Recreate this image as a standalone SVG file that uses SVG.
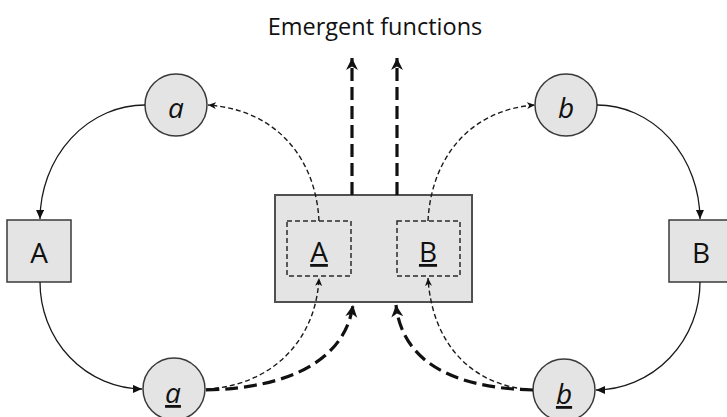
<svg xmlns="http://www.w3.org/2000/svg" width="727" height="417" viewBox="0 0 727 417">
  <style>
    .node { fill: #e4e4e4; stroke: #3a3a3a; stroke-width: 1.5; }
    .hub { fill: #e4e4e4; stroke: #505050; stroke-width: 2; }
    .inner { fill: none; stroke: #2a2a2a; stroke-width: 1.5; stroke-dasharray: 5 3; }
    .lbl { font-family: "Open Sans", "Liberation Sans", sans-serif; font-size: 28px; fill: #111; text-anchor: middle; }
    .it { font-style: italic; }
    .ul { text-decoration: underline; }
    .title { font-family: "Open Sans", "Liberation Sans", sans-serif; font-size: 23.5px; fill: #111; text-anchor: middle; }
    .solid { fill: none; stroke: #1a1a1a; stroke-width: 1.3; marker-end: url(#headSolid); }
    .thin { fill: none; stroke: #1a1a1a; stroke-width: 1.4; stroke-dasharray: 5 3; marker-end: url(#headThin); }
    .thick { fill: none; stroke: #111; stroke-width: 3.2; stroke-dasharray: 13 6; marker-end: url(#headThick); }
  </style>
  <defs>
    <marker id="headSolid" markerUnits="userSpaceOnUse" markerWidth="10" markerHeight="9" refX="9" refY="4" orient="auto">
      <path d="M0,0 L9,4 L0,8 z" fill="#111"/>
    </marker>
    <marker id="headThin" markerUnits="userSpaceOnUse" markerWidth="9" markerHeight="8" refX="8" refY="3.5" orient="auto">
      <path d="M0,0 L8,3.5 L0,7 L2.2,3.5 z" fill="#111"/>
    </marker>
    <marker id="headThick" markerUnits="userSpaceOnUse" markerWidth="13" markerHeight="13" refX="12" refY="6" orient="auto">
      <path d="M0,0 L12,6 L0,12 L3.5,6 z" fill="#111"/>
    </marker>
  </defs>

  <text class="title" x="375" y="35">Emergent functions</text>

  <g id="circle-a-top">
    <circle class="node" cx="176" cy="105" r="31"/>
    <text class="lbl it" x="176" y="118">a</text>
  </g>
  <g id="box-A">
    <rect class="node" x="7" y="220" width="64" height="62"/>
    <text class="lbl" x="39" y="263">A</text>
  </g>
  <g id="circle-a-bottom">
    <circle class="node" cx="174" cy="389" r="31"/>
    <text class="lbl it ul" x="173" y="403">a</text>
  </g>

  <g id="circle-b-top">
    <circle class="node" cx="566" cy="105" r="31"/>
    <text class="lbl it" x="566" y="118">b</text>
  </g>
  <g id="box-B">
    <rect class="node" x="669" y="220" width="64" height="62"/>
    <text class="lbl" x="701" y="263">B</text>
  </g>
  <g id="circle-b-bottom">
    <circle class="node" cx="564" cy="390" r="31"/>
    <text class="lbl it ul" x="564" y="404">b</text>
  </g>

  <g id="hub">
    <rect class="hub" x="275" y="195" width="197" height="107"/>
    <g id="hub-A">
      <rect class="inner" x="287" y="221" width="64" height="55"/>
      <text class="lbl ul" x="319" y="262">A</text>
    </g>
    <g id="hub-B">
      <rect class="inner" x="397" y="221" width="63" height="55"/>
      <text class="lbl ul" x="428" y="262">B</text>
    </g>
  </g>

  <!-- connectors are drawn last so the parts crossing the hub stay visible -->
  <g id="connectors">
    <!-- solid cycle on the left: a -> A -> a -->
    <path class="solid" d="M145,105 A105,115 0 0 0 40,219"/>
    <path class="solid" d="M40,282 A103,107 0 0 0 142,389"/>
    <!-- solid cycle on the right: b -> B -> b -->
    <path class="solid" d="M597,105 A103,115 0 0 1 700,219"/>
    <path class="solid" d="M700,282 A105,108 0 0 1 596,390"/>
    <!-- thin dashed links from the inner boxes up to the top circles -->
    <path class="thin" d="M319,221 C316,160 278,110 208,105"/>
    <path class="thin" d="M428,221 C431,160 468,110 535,105"/>
    <!-- thin dashed links from the bottom circles up to the inner boxes -->
    <path class="thin" d="M206,389 C270,386 316,342 319,278"/>
    <path class="thin" d="M533,390 C470,386 432,342 428,278"/>
    <!-- thick dashed links from the bottom circles to the hub -->
    <path class="thick" d="M206,390 C290,388 345,360 353,305"/>
    <path class="thick" d="M533,390 C450,388 402,360 396,305"/>
    <!-- thick dashed emergent outputs -->
    <path class="thick" d="M352,195 L352,58"/>
    <path class="thick" d="M397,195 L397,58"/>
  </g>
</svg>
